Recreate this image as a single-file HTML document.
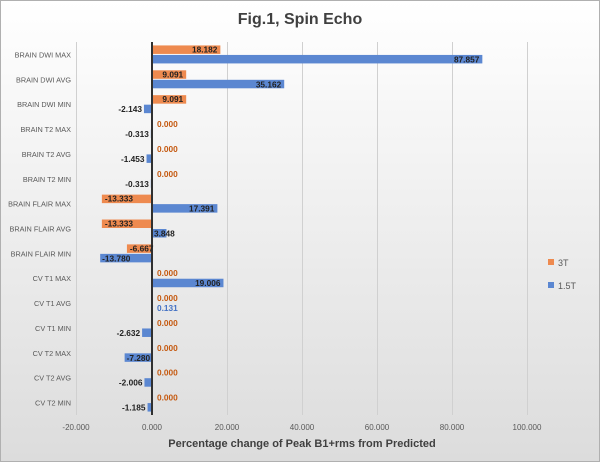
<!DOCTYPE html>
<html><head><meta charset="utf-8"><style>
html,body{margin:0;padding:0;}
body{width:600px;height:462px;overflow:hidden;font-family:"Liberation Sans",Arial,sans-serif;}
</style></head><body>
<svg width="600" height="462" xmlns="http://www.w3.org/2000/svg" font-family="Liberation Sans, Arial, sans-serif">
<defs><linearGradient id="bg" x1="0" y1="0" x2="0" y2="1"><stop offset="0" stop-color="#ffffff"/><stop offset="1" stop-color="#dcdcdc"/></linearGradient></defs>
<rect x="0.5" y="0.5" width="599" height="461" fill="url(#bg)" stroke="#b0b0b0"/>
<text x="300" y="24" text-anchor="middle" font-size="16" font-weight="bold" fill="#404040">Fig.1, Spin Echo</text>
<g stroke="#d0d0d0" stroke-width="1">
<line x1="76.5" y1="42" x2="76.5" y2="415"/><line x1="227.5" y1="42" x2="227.5" y2="415"/><line x1="302.5" y1="42" x2="302.5" y2="415"/><line x1="377.5" y1="42" x2="377.5" y2="415"/><line x1="452.5" y1="42" x2="452.5" y2="415"/><line x1="527.5" y1="42" x2="527.5" y2="415"/>
</g>
<g font-size="8" fill="#595959" text-anchor="middle">
<text x="76" y="430">-20.000</text><text x="152" y="430">0.000</text><text x="227" y="430">20.000</text><text x="302" y="430">40.000</text><text x="377" y="430">60.000</text><text x="452" y="430">80.000</text><text x="527" y="430">100.000</text>
</g>
<text x="302" y="447" text-anchor="middle" font-size="11" font-weight="bold" fill="#404040">Percentage change of Peak B1+rms from Predicted</text>
<g id="bars"></g>
<line x1="152" y1="42" x2="152" y2="415" stroke="#303030" stroke-width="2"/>
<rect x="548" y="259" width="6" height="6" fill="#EE8A4F"/><text x="558" y="266" font-size="9" fill="#595959">3T</text>
<rect x="548" y="282" width="6" height="6" fill="#5B87D1"/><text x="558" y="289" font-size="9" fill="#595959">1.5T</text>
<g id="labels"></g>
</svg>
<script>
(function(){
var list=["BRAIN DWI MAX","BRAIN DWI AVG","BRAIN DWI MIN","BRAIN T2 MAX","BRAIN T2 AVG","BRAIN T2 MIN","BRAIN FLAIR MAX","BRAIN FLAIR AVG","BRAIN FLAIR MIN","CV T1 MAX","CV T1 AVG","CV T1 MIN","CV T2 MAX","CV T2 AVG","CV T2 MIN"];
var o=[18.182,9.091,9.091,0,0,0,-13.333,-13.333,-6.667,0,0,0,0,0,0];
var b=[87.857,35.162,-2.143,-0.313,-1.453,-0.313,17.391,3.848,-13.780,19.006,0.131,-2.632,-7.280,-2.006,-1.185];
var NS="http://www.w3.org/2000/svg";
var bars=document.getElementById("bars"),labs=document.getElementById("labels");
var n=list.length, yTop=42, yBot=415, h=(yBot-yTop)/n, sc=3.76, x0=152;
function el(p,t,a,txt){var e=document.createElementNS(NS,t);for(var k in a)e.setAttribute(k,a[k]);if(txt!==undefined)e.textContent=txt;p.appendChild(e);return e;}
for(var i=0;i<n;i++){
 var c=yTop+h*(i+0.5);
 el(labs,"text",{x:71,y:c+3,"text-anchor":"end","font-size":"7.3",fill:"#595959"},list[i]);
 var ov=o[i],bv=b[i];
 var ow=Math.abs(ov)*sc, bw=Math.abs(bv)*sc;
 var oy=c-9, by=c+0.5;
 if(ov!==0) el(bars,"rect",{x:ov>0?x0:x0-ow,y:oy,width:ow,height:8.5,fill:"#EE8A4F"});
 el(bars,"rect",{x:bv>0?x0:x0-bw,y:by,width:bw,height:8.5,fill:"#5B87D1"});
 var fs="8.3", fw="bold";
 if(ov===0) el(labs,"text",{x:157,y:oy+7,"font-size":fs,"font-weight":fw,fill:"#C55A11"},"0.000");
 else if(ov>0) el(labs,"text",{x:x0+ow-3,y:oy+7,"text-anchor":"end","font-size":fs,"font-weight":fw,fill:"#222"},ov.toFixed(3));
 else el(labs,"text",{x:x0-ow+3,y:oy+7,"font-size":fs,"font-weight":fw,fill:"#222"},ov.toFixed(3));
 var bt=bv.toFixed(3);
 if(bv<0){ if(bw>20) el(labs,"text",{x:x0-bw+2,y:by+7.5,"font-size":fs,"font-weight":fw,fill:"#222"},bt);
   else el(labs,"text",{x:x0-bw-2,y:by+7.5,"text-anchor":"end","font-size":fs,"font-weight":fw,fill:"#222"},bt);}
 else if(bv<1) el(labs,"text",{x:157,y:by+7.5,"font-size":fs,"font-weight":fw,fill:"#4472C4"},bt);
 else if(bw<30) el(labs,"text",{x:x0+2,y:by+7.5,"font-size":fs,"font-weight":fw,fill:"#222"},bt);
 else el(labs,"text",{x:x0+bw-3,y:by+7.5,"text-anchor":"end","font-size":fs,"font-weight":fw,fill:"#222"},bt);
}
})();
</script>
</body></html>
